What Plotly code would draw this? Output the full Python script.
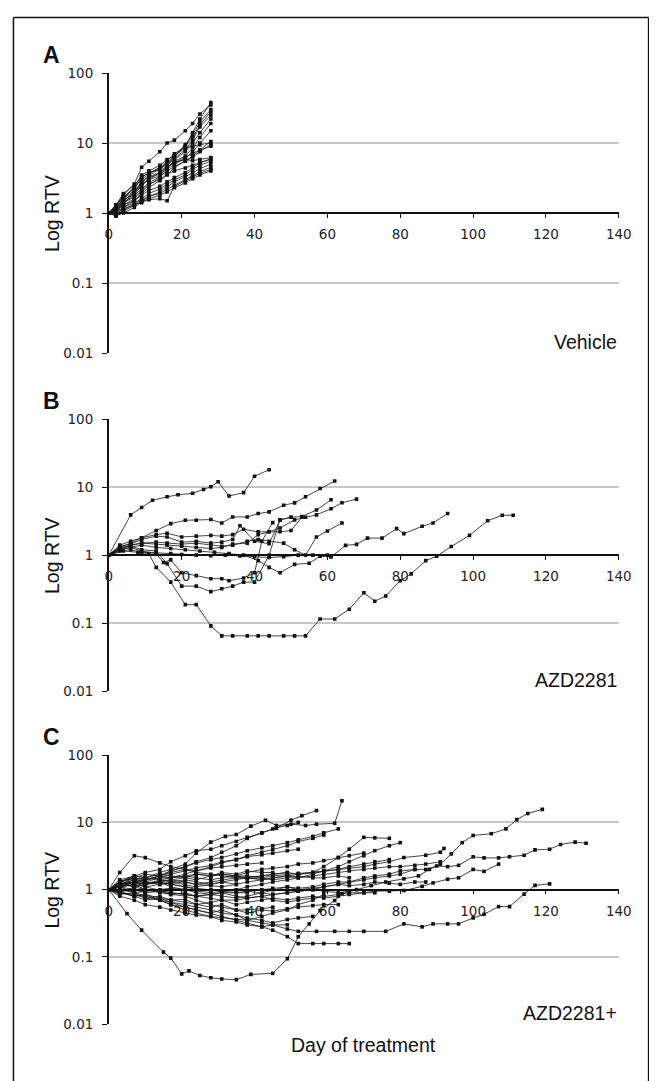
import plotly.graph_objects as go

W, H = 657, 1081
# measured mapping between figure pixels and the photographed page
SX, OX = 0.976, 12.0
SY, OY = 0.985, 16.0

# ---------------- Panel A: Vehicle ----------------
days_A = [0, 2, 4, 7, 9, 11, 14, 16, 18, 21, 23, 25, 28]
vehicle_series = [
    [1, 1.3, 1.8, 2.6, 4.5, 5.5, 7.5, 10, 11, 15, 19, 26, 35],
    [1, 1.2, 1.6, 2.3, 3.0, 3.6, 4.5, 5.5, 7, 9, 14, 22, 38],
    [1, 1.1, 1.5, 2.0, 2.8, 3.4, 4.3, 5.2, 6.5, 9.5, 13, 20, 30],
    [1, 1.3, 1.7, 2.2, 3.2, 3.8, 4.2, 5.0, 6.0, 8.0, 11, 17, 25],
    [1, 1.0, 1.4, 1.9, 2.5, 3.0, 3.8, 4.8, 5.8, 7.5, 10, 14, 22],
    [1, 1.2, 1.5, 1.9, 2.4, 3.2, 3.6, 4.5, 5.5, 6.5, 8.5, 12, 19],
    [1, 1.1, 1.3, 1.6, 2.0, 2.5, 3.2, 4.2, 5.0, 6.0, 7.5, 10, 15],
    [1, 0.95, 1.2, 1.5, 1.9, 2.3, 2.9, 3.5, 4.5, 5.5, 6.5, 8, 10.5],
    [1, 1.15, 1.4, 1.8, 2.2, 2.7, 3.3, 4.0, 4.6, 5.5, 6.3, 7.5, 9.5],
    [1, 1.1, 1.3, 1.5, 1.8, 2.1, 2.4, 2.8, 3.2, 3.8, 4.5, 5.2, 6.0],
    [1, 1.05, 1.2, 1.4, 1.6, 1.9, 2.2, 2.6, 3.0, 3.5, 4.2, 4.8, 5.5],
    [1, 0.9, 1.05, 1.3, 1.5, 1.7, 2.0, 2.4, 2.8, 3.3, 3.8, 4.3, 5.0],
    [1, 1.0, 1.1, 1.35, 1.55, 1.75, 1.9, 2.2, 2.5, 3.0, 3.4, 3.9, 4.5],
    [1, 1.05, 1.15, 1.3, 1.4, 1.55, 1.6, 1.5, 2.4, 2.9, 3.3, 3.7, 4.2],
    [1, 1.2, 1.6, 2.1, 2.7, 3.3, 3.8, 4.6, 5.3, 5.8, 5.6, 5.8, 6.2],
    [1, 1.25, 1.7, 2.3, 3.5, 4.0, 4.8, 5.8, 6.5, 8.5, 9.0, 9.5, 10],
    [1, 1.15, 1.5, 2.0, 2.6, 3.0, 3.4, 4.5, 5.2, 6.2, 7.0, 8.0, 9.0],
    [1, 1.3, 1.9, 2.5, 3.3, 3.7, 4.5, 5.0, 6.5, 9, 12, 18, 28],
    [1, 1.1, 1.4, 1.7, 2.1, 2.6, 3.0, 3.6, 4.0, 4.4, 4.8, 5.3, 5.8],
    [1, 0.92, 1.0, 1.2, 1.45, 1.6, 1.8, 2.0, 2.3, 2.7, 3.1, 3.5, 4.0],
]

# ---------------- Panel B: AZD2281 ----------------
azd_days = [
    [0, 6, 9, 12, 16, 19, 23, 26, 28, 30, 33, 37, 40, 44],
    [0, 4, 8, 11, 13, 17, 21, 24, 28, 31, 34, 38, 41, 44, 48, 51, 54, 58, 62, 66, 70, 73, 76, 80, 83, 87, 90, 94, 99, 104, 108, 111],
    [0, 3, 6, 9, 13, 17, 21, 25, 29, 33, 37, 41, 44, 47, 51, 55, 58, 61, 65, 68, 71, 75, 79, 81, 86, 89, 93],
    [0, 3, 6, 9, 13, 17, 21, 24, 28, 31, 34, 38, 41, 44, 48, 51, 54, 58, 62],
    [0, 3, 6, 9, 13, 16, 20, 24, 28, 31, 34, 37, 41, 44, 47, 51, 54, 57, 61, 64, 68],
    [0, 3, 6, 9, 13, 16, 20, 24, 28, 31, 34, 37, 40, 44, 47, 50, 53, 57, 61],
    [0, 3, 6, 9, 13, 15, 17, 20, 24, 28, 31, 33, 37, 40, 42, 45],
    [0, 3, 6, 9, 13, 16, 20, 24, 28, 31, 34, 38, 41, 44, 48, 51, 54, 57, 60, 64],
    [0, 3, 6, 9, 13, 17, 20, 24, 28, 32, 36, 40, 44, 48, 52, 56, 60],
    [0, 3, 6, 9, 13, 16, 20, 24, 28, 31, 34, 36, 40, 44, 47, 50],
    [0, 3, 6, 9, 13, 16, 20, 24, 28, 31, 34, 38, 41, 44, 47, 50, 53],
]
azd_values = [
    [1, 3.9, 5.0, 6.4, 7.2, 7.7, 8.1, 9.2, 10.1, 12, 7.4, 8.3, 14.4, 18],
    [1, 1.15, 1.1, 1.05, 0.66, 0.40, 0.187, 0.187, 0.091, 0.065, 0.065, 0.065, 0.065, 0.065, 0.065, 0.065, 0.065, 0.115, 0.115, 0.16, 0.28, 0.21, 0.25, 0.42, 0.53, 0.83, 0.96, 1.34, 1.95, 3.2, 3.86, 3.86],
    [1, 1.2, 1.3, 1.4, 1.3, 1.25, 1.2, 1.15, 1.1, 1.05, 1.0, 0.83, 0.66, 0.55, 0.73, 0.76, 0.96, 0.94, 1.39, 1.44, 1.78, 1.78, 2.45, 2.07, 2.65, 2.97, 4.08],
    [1, 1.4, 1.6, 1.8, 2.3, 2.9, 3.25, 3.25, 3.33, 2.97, 3.64, 3.64, 4.08, 4.32, 5.42, 5.87, 7.2, 9.55, 12.3],
    [1, 1.3, 1.5, 1.8, 2.0, 2.1, 1.85, 1.9, 1.95, 1.9, 2.0, 2.4, 2.2, 2.2, 2.5, 3.3, 3.6, 3.9, 4.8, 5.9, 6.65],
    [1, 1.3, 1.35, 1.2, 1.15, 0.75, 0.35, 0.35, 0.29, 0.32, 0.35, 0.40, 0.40, 1.0, 3.3, 3.6, 3.7, 4.6, 6.5],
    [1, 1.2, 1.3, 1.15, 1.05, 0.78, 0.85, 0.55, 0.5, 0.45, 0.45, 0.42, 0.46, 0.55, 1.6, 3.0],
    [1, 1.2, 1.4, 1.5, 1.55, 1.5, 1.45, 1.5, 1.4, 1.35, 1.4, 1.6, 1.7, 1.6, 1.5, 1.2, 1.0, 1.85, 2.26, 2.97],
    [1, 1.15, 1.2, 1.1, 1.08, 1.05, 1.02, 1.0, 0.98, 1.0, 0.97, 0.95, 0.92, 0.95, 1.0, 1.0, 1.0],
    [1, 1.35, 1.45, 1.7, 1.9, 1.85, 1.55, 1.6, 1.5, 1.55, 1.7, 2.7, 1.6, 1.47, 3.3, 3.6],
    [1, 1.25, 1.4, 1.5, 1.45, 1.4, 1.35, 1.3, 1.25, 1.3, 1.45, 1.5, 2.0, 2.2, 2.2, 2.3, 3.6],
]

# ---------------- Panel C: AZD2281+ ----------------
grid_C = [0, 3, 7, 10, 14, 17, 21, 24, 28, 31, 35, 38, 42, 45, 49, 52, 56, 59, 63, 66,
          70, 73, 77, 80, 84, 87, 91]
combo_long_days = [
    [0, 5, 9, 15, 17, 20, 22, 25, 28, 31, 35, 39, 45, 49, 52, 55, 58, 62, 64, 68, 72, 76, 81, 85, 88, 91, 94, 97, 100, 105, 109, 112, 115, 119],
    [0, 3, 7, 10, 14, 17, 21, 24, 28, 31, 35, 38, 42, 45, 49, 52, 56, 59, 63, 66, 70, 73, 77, 80, 84, 87, 90, 93, 96, 100, 103, 107, 110, 114, 117, 121, 124, 128, 131],
    [0, 3, 7, 10, 14, 17, 21, 24, 28, 31, 35, 38, 42, 45, 49, 52, 57, 62, 66, 70, 76, 81, 86, 89, 93, 96, 100, 103, 107, 110, 114, 117, 121],
    [0, 3, 7, 10, 14, 17, 21, 24, 28, 31, 35, 38, 42, 45, 49, 52, 56, 59, 63, 66, 70, 73, 77, 81, 86, 89, 93, 96, 100, 103, 107],
    [0, 3, 7, 10, 14, 17, 21, 24, 28, 32, 35, 39, 43, 46, 50, 54, 57, 62, 64],
    [0, 3, 7, 10, 14, 17, 21, 24, 28, 31, 35, 38, 42, 46, 50, 53, 57],
    [0, 3, 7, 10, 14, 17, 21, 24, 28, 31, 35, 38, 42, 45, 49, 52, 56, 59, 63, 66, 70, 73, 77, 81, 87, 91, 92],
]
combo_long_values = [
    [1, 0.44, 0.25, 0.118, 0.096, 0.056, 0.062, 0.053, 0.049, 0.047, 0.046, 0.055, 0.057, 0.094, 0.2, 0.31, 0.49, 0.69, 0.87, 1.0, 1.15, 1.3, 1.45, 1.6, 2.0, 2.4, 3.4, 5.0, 6.4, 6.8, 8.0, 11, 13.6, 15.6],
    [1, 1.3, 1.5, 1.2, 1.3, 1.1, 1.0, 0.9, 0.85, 0.8, 0.75, 0.8, 0.9, 1.0, 1.1, 1.05, 1.1, 1.2, 1.3, 1.3, 1.5, 1.6, 1.7, 1.9, 2.0, 2.0, 2.25, 2.2, 2.3, 3.08, 2.97, 2.97, 3.08, 3.25, 3.9, 4.0, 4.7, 5.1, 4.9],
    [1, 0.9, 0.8, 0.85, 0.7, 0.65, 0.6, 0.55, 0.5, 0.45, 0.42, 0.35, 0.32, 0.3, 0.26, 0.24, 0.24, 0.24, 0.24, 0.24, 0.24, 0.31, 0.28, 0.31, 0.31, 0.31, 0.38, 0.43, 0.56, 0.56, 0.86, 1.16, 1.22],
    [1, 1.1, 1.2, 1.1, 1.0, 0.9, 0.85, 0.8, 0.75, 0.7, 0.7, 0.75, 0.8, 0.7, 0.65, 0.7, 0.75, 0.8, 0.85, 0.9, 0.9, 0.95, 0.95, 0.97, 1.12, 1.26, 1.43, 1.5, 2.0, 1.87, 2.4],
    [1, 1.2, 1.4, 1.5, 1.8, 2.0, 2.4, 3.5, 5.1, 6.2, 6.6, 8.8, 10.8, 9.0, 9.4, 9.0, 9.4, 9.7, 21],
    [1, 1.3, 1.5, 1.4, 1.6, 1.9, 2.2, 2.6, 3.0, 3.6, 4.5, 5.8, 7.0, 8.2, 10.8, 12.6, 15],
    [1, 1.2, 1.3, 1.4, 1.5, 1.5, 1.6, 1.7, 1.6, 1.7, 1.6, 1.5, 1.6, 1.7, 1.8, 1.7, 1.8, 1.9, 2.0, 2.1, 2.2, 2.4, 2.6, 3.0, 3.25, 3.6, 4.1],
]
combo_grid_values = [
    [1, 0.9, 0.85, 0.75, 0.7, 0.6, 0.55, 0.5, 0.45, 0.4, 0.35, 0.32, 0.28, 0.25, 0.2, 0.158, 0.158, 0.158, 0.158, 0.158],
    [1, 1.1, 1.3, 1.2, 1.35, 1.4, 1.3, 1.2, 1.15, 1.1, 1.2, 1.3, 1.4, 1.5, 1.6, 1.7, 1.8, 2.2, 3.0, 4.0, 6.0, 5.9, 5.8],
    [1, 1.2, 1.5, 1.4, 1.6, 1.5, 1.7, 1.9, 2.2, 2.5, 2.8, 3.2, 3.6, 4.0, 4.5, 5.2, 5.8, 6.5],
    [1, 1.1, 1.3, 1.2, 1.3, 1.4, 1.5, 1.4, 1.6, 1.7, 1.6, 1.8, 2.0, 2.1, 2.2, 2.4, 2.5, 2.7, 3.0, 3.2, 3.5],
    [1, 1.2, 1.1, 1.3, 1.2, 1.25, 1.3, 1.2, 1.3, 1.4, 1.5, 1.45, 1.5, 1.6, 1.7, 1.75, 1.8, 1.9, 2.0, 2.2, 2.4, 2.6, 2.8],
    [1, 0.9, 1.1, 1.0, 0.95, 0.9, 0.85, 0.8, 0.85, 0.9, 0.8, 0.75, 0.8, 0.85, 0.9, 0.95, 1.0, 1.1, 1.2, 1.3, 1.4, 1.5, 1.6, 1.7, 2.0],
    [1, 1.3, 1.6, 1.5, 1.4, 1.5, 1.6, 1.5, 1.4, 1.5, 1.6, 1.6, 1.5, 1.4, 1.5, 1.6, 1.5, 1.5, 1.6, 1.5],
    [1, 1.1, 1.2, 1.3, 1.25, 1.2, 1.1, 1.0, 1.0, 0.95, 0.9, 0.95, 1.0, 1.05, 1.1, 1.0, 1.05, 1.1, 1.2, 1.15, 1.2, 1.3, 1.25, 1.2, 1.3, 1.3],
    [1, 0.95, 0.8, 0.85, 0.75, 0.7, 0.72, 0.6, 0.65, 0.7, 0.6, 0.65, 0.7, 0.75, 0.7, 0.75, 0.8, 0.75, 0.8, 0.85, 0.9, 0.9],
    [1, 0.85, 0.9, 0.75, 0.8, 0.7, 0.65, 0.6, 0.55, 0.6, 0.5, 0.45, 0.5, 0.48, 0.52, 0.55, 0.58, 0.6, 0.6],
    [1, 0.9, 0.8, 0.7, 0.75, 0.65, 0.55, 0.5, 0.45, 0.5, 0.42, 0.38, 0.35, 0.32, 0.36, 0.38, 0.4],
    [1, 1.1, 0.9, 0.8, 0.7, 0.6, 0.5, 0.45, 0.4, 0.35, 0.33, 0.3, 0.28, 0.3, 0.3],
    [1, 1.1, 1.2, 1.0, 0.9, 0.85, 0.8, 0.7, 0.6, 0.55, 0.5, 0.5, 0.52, 0.55],
    [1, 1.3, 1.5, 1.7, 1.6, 1.8, 2.0, 1.9, 2.1, 2.2, 2.3, 2.4, 2.5],
    [1, 1.2, 1.4, 1.3, 1.5, 1.7, 1.9, 2.1, 2.3, 2.6, 2.8, 3.1, 3.3, 3.5, 3.8, 4.0],
    [1, 1.8, 3.2, 3.0, 2.5, 2.2, 2.0, 1.8, 1.7, 1.6, 1.5, 1.55, 1.6, 1.7, 1.8],
    [1, 1.15, 1.3, 1.2, 1.3, 1.2, 1.1, 1.05, 1.0, 0.95, 1.0, 1.1, 1.2, 1.3, 1.4, 1.5, 1.7, 1.9, 2.2, 2.6, 3.2, 3.8, 4.5, 5.0],
    [1, 0.8, 0.7, 0.6, 0.55, 0.5, 0.45, 0.42, 0.4, 0.38, 0.36, 0.35, 0.4, 0.45, 0.5, 0.6, 0.7, 0.85],
    [1, 1.4, 1.6, 1.5, 1.7, 1.6, 1.5, 1.7, 1.6, 1.8, 1.7, 1.9, 1.8, 1.8],
    [1, 1.1, 1.0, 0.9, 0.95, 0.85, 0.9, 0.8, 0.85, 0.9, 0.9, 0.9],
    [1, 1.2, 1.3, 1.1, 1.2, 1.3, 1.4, 1.3, 1.2, 1.3, 1.4, 1.5, 1.4, 1.5, 1.6, 1.5, 1.6, 1.7, 1.8, 1.9, 2.0, 2.1, 2.2, 2.2, 2.3, 2.4, 2.6],
    [1, 1.3, 1.1, 1.2, 1.4, 1.3, 1.2, 1.1, 1.2, 1.3, 1.2],
    [1, 1.0, 0.9, 0.95, 1.0, 1.05, 1.0, 0.95, 0.9, 0.95, 1.0, 0.95, 0.9, 0.85, 0.9, 0.95, 1.0, 0.95, 0.9, 0.95],
    [1, 1.2, 1.3, 1.4, 1.6, 1.9, 2.2, 2.5, 2.8, 3.0, 3.4, 3.8, 4.2, 4.5, 5.0, 5.5, 6.2, 7.0, 8.0],
    [1, 1.3, 1.6, 1.8, 2.0, 2.6, 3.2, 3.8, 4.0, 4.5, 5.2, 6.0, 7.0, 8.0, 9.0, 10.0],
]

panel_labels = ["A", "B", "C"]
group_labels = ["Vehicle", "AZD2281", "AZD2281+"]
y_tickvals = [0.01, 0.1, 1, 10, 100]
y_ticktext = ["0.01", "0.1", "1", "10", "100"]
x_tickvals = [0, 20, 40, 60, 80, 100, 120, 140]

# ---------------- layout geometry (target pixels in the picture) ----------------
x_left_px, x_right_px = 109, 620
panels_px = [(73, 353), (419, 691), (755, 1024)]   # (y of 100, y of 0.01)


def fx(t):
    return ((t - OX) / SX) / W


def fy(t):
    return 1 - ((t - OY) / SY) / H


fig = go.Figure()

line_style = dict(color="#151515", width=0.8)
marker_style = dict(symbol="square", size=3.6, color="#111111")


def add_series(days, vals, idx):
    sfx = "" if idx == 0 else str(idx + 1)
    fig.add_trace(go.Scatter(
        x=days, y=vals, mode="lines+markers", line=line_style, marker=marker_style,
        xaxis="x" + sfx, yaxis="y" + sfx, showlegend=False, hoverinfo="skip"))


for s in vehicle_series:
    add_series(days_A, s, 0)
for d, v in zip(azd_days, azd_values):
    add_series(d, v, 1)
for d, v in zip(combo_long_days, combo_long_values):
    add_series(d, v, 2)
for v in combo_grid_values:
    add_series(grid_C[:len(v)], v, 2)

tick_font = dict(family="DejaVu Sans", size=13.5, color="#222222")
label_font = dict(family="Liberation Sans, Arial", size=19.5, color="#111111")

layout = dict(
    width=W, height=H, margin=dict(l=0, r=0, t=0, b=0),
    paper_bgcolor="white", plot_bgcolor="white", showlegend=False,
    annotations=[], shapes=[],
)

for i, (ytop, ybot) in enumerate(panels_px):
    sfx = "" if i == 0 else str(i + 1)
    ymid = (ytop + ybot) / 2
    layout["xaxis" + sfx] = dict(
        domain=[fx(x_left_px), fx(x_right_px)], range=[0, 140],
        anchor="free", position=fy(ymid),
        tickvals=x_tickvals, ticks="outside", ticklen=4, tickwidth=1, tickcolor="#111",
        showline=True, linecolor="#111111", linewidth=1.6,
        showgrid=False, zeroline=False, tickfont=tick_font, ticklabelstandoff=5,
    )
    layout["yaxis" + sfx] = dict(
        domain=[fy(ybot), fy(ytop)], type="log", range=[-2, 2],
        anchor="x" + sfx, tickvals=y_tickvals, ticktext=y_ticktext,
        ticks="outside", ticklen=5, tickwidth=1, tickcolor="#111",
        showline=True, linecolor="#111111", linewidth=1.6,
        showgrid=True, gridcolor="#c8c8c8", gridwidth=1.5, zeroline=False,
        tickfont=tick_font, ticklabelstandoff=6,
    )
    layout["annotations"].append(dict(
        text="<b>%s</b>" % panel_labels[i], x=fx(52), y=fy(ytop - 18), xref="paper", yref="paper",
        showarrow=False, xanchor="center", yanchor="middle",
        font=dict(family="Liberation Sans, Arial", size=23, color="#111111")))
    layout["annotations"].append(dict(
        text="Log RTV", x=fx(52), y=fy(ymid), xref="paper", yref="paper",
        showarrow=False, textangle=-90, xanchor="center", yanchor="middle", font=label_font))
    layout["annotations"].append(dict(
        text=group_labels[i], x=fx(x_right_px), y=fy(ybot - 11), xref="paper", yref="paper",
        showarrow=False, xanchor="right", yanchor="middle", font=label_font))

layout["annotations"].append(dict(
    text="Day of treatment", x=fx((x_left_px + x_right_px) / 2), y=fy(1045),
    xref="paper", yref="paper", showarrow=False, xanchor="center", yanchor="middle",
    font=label_font))

# outer frame (left, top, right)
frame = dict(color="#111111", width=1.5)
fl, ft, fr = 1.5 / W, 1 - 1.5 / H, 653.5 / W
layout["shapes"] += [
    dict(type="line", xref="paper", yref="paper", x0=fl, x1=fl, y0=0, y1=ft, line=frame),
    dict(type="line", xref="paper", yref="paper", x0=fl, x1=fr, y0=ft, y1=ft, line=frame),
    dict(type="line", xref="paper", yref="paper", x0=fr, x1=fr, y0=0, y1=ft, line=frame),
]

fig.update_layout(**layout)
fig.write_html("out.html")
